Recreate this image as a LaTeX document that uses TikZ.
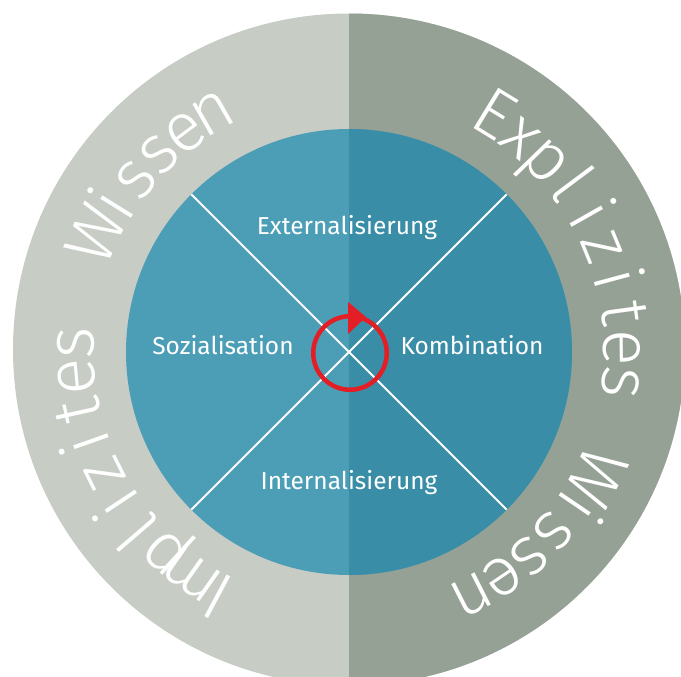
\documentclass[tikz,border=0pt]{standalone}
\usepackage{fontspec}
\setmainfont{Fira Sans}
\newfontfamily\ringfont{Fira Sans Light}
\definecolor{outerL}{RGB}{199,204,197}
\definecolor{outerR}{RGB}{150,161,149}
\definecolor{innerL}{RGB}{76,158,183}
\definecolor{innerR}{RGB}{58,141,166}
\definecolor{cycred}{RGB}{227,30,36}
\newcommand\ringsize{\fontsize{69}{72}\selectfont}
\tikzset{
  ringletter/.style={text=white, anchor=base, inner sep=0pt, font=\ringfont\ringsize},
  quadlabel/.style={text=white, anchor=base, inner sep=0pt, font=\fontsize{24.5}{30}\selectfont},
  divline/.style={draw=white, line width=1.8pt},
}
\def\spacemark{-}
\newdimen\accw
\newcount\nchars
% #1 name prefix, #2 start angle (outer edge of first letter), #3 end angle,
% #4 baseline radius, #5 word space width, #6 letter list (- = space)
\newcommand\ringtext[6]{%
  \global\accw=0pt \global\nchars=0
  \foreach \ltr in {#6}{%
    \ifx\ltr\spacemark \global\advance\accw by #5pt
    \else \setbox0=\hbox{\ringfont\ringsize\ltr}\global\advance\accw by \wd0 \fi
    \global\advance\nchars by 1
  }%
  \pgfmathsetmacro\trk{(((#2)-(#3))*pi/180*#4 - \the\accw)/(\the\nchars-1)}%
  \global\accw=0pt
  \foreach \ltr [count=\i] in {#6}{%
    \ifx\ltr\spacemark \global\advance\accw by #5pt \global\advance\accw by \trk pt
    \else
      \setbox0=\hbox{\ringfont\ringsize\ltr}%
      \pgfmathsetmacro\ang{(#2) - (\the\accw + 0.5*\the\wd0)/#4*180/pi}%
      \node[ringletter, rotate=\ang-90] (#1\i) at (\ang:#4) {\ltr};
      \global\advance\accw by \wd0 \global\advance\accw by \trk pt
    \fi
  }%
}
\begin{document}
\begin{tikzpicture}[x=1pt,y=1pt]
\useasboundingbox (0,0) rectangle (681,-677);
\clip (0,0) rectangle (681,-677);
% outer ring
\fill[outerL] (349,-349.5) circle (336);
\fill[outerR] (349,-13.5) arc (90:-90:336) -- cycle;
% inner disc
\fill[innerL] (349,-352) circle (223);
\fill[innerR] (349,-129) arc (90:-90:223) -- cycle;
% diagonals
\begin{scope}[shift={(349,-352)}]
  \coordinate (d1) at (135:223);
  \coordinate (d2) at (-45:223);
  \coordinate (d3) at (45:223);
  \coordinate (d4) at (-135:223);
\end{scope}
\draw[divline] (d1) -- (d2);
\draw[divline] (d3) -- (d4);
% quadrant labels
\node[quadlabel] (ext) at (347,-234) {Externalisierung};
\node[quadlabel] (soz) at (223,-354) {Sozialisation};
\node[quadlabel] (kom) at (472,-354) {Kombination};
\node[quadlabel] (int) at (349,-489) {Internalisierung};
% cycle symbol
\node[circle, draw=cycred, line width=4.5pt, minimum size=73.5pt, inner sep=0pt] (cyc) at (350,-353) {};
\fill[cycred] (348,-302) -- (348,-334) -- (366,-317) -- cycle;
% ring texts
\begin{scope}[shift={(349,-351)}]
  \ringtext{imp}{241.9}{119.8}{255}{40}{I,m,p,l,i,z,i,t,e,s,-,W,i,s,s,e,n}
  \ringtext{exp}{58.5}{-63.2}{255}{26}{E,x,p,l,i,z,i,t,e,s,-,W,i,s,s,e,n}
\end{scope}
\end{tikzpicture}
\end{document}
